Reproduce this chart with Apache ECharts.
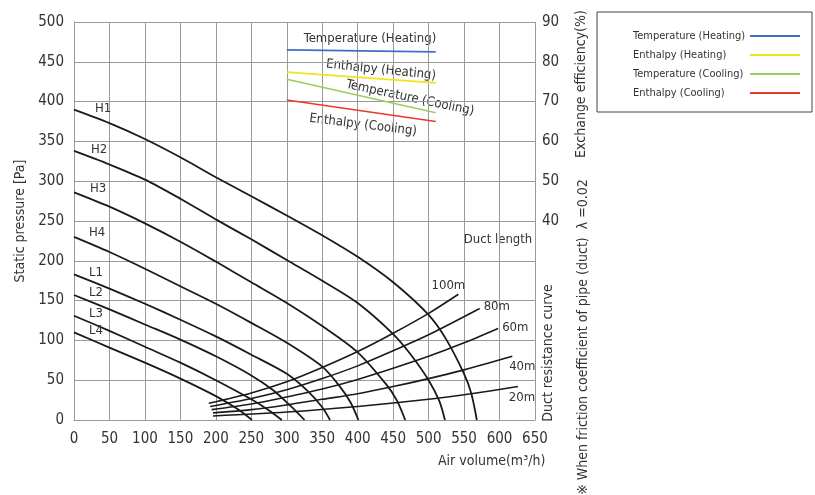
<!DOCTYPE html>
<html>
<head>
<meta charset="utf-8">
<script src="https://cdn.jsdelivr.net/npm/echarts@6/dist/echarts.min.js"></script>
<style>
html,body{margin:0;padding:0;background:#fff;}
#c{width:815px;height:495px;}
</style>
</head>
<body>
<div id="c"></div>
<script>
// ---------- data ----------
const xTicks = [0,50,100,150,200,250,300,350,400,450,500,550,600,650];
const fanNames = ['H1','H2','H3','H4','L1','L2','L3','L4'];
const H1 = [[0,390],[50,373],[100,353],[150,330],[200,305],[250,281],[300,257],[350,232],[400,205],[450,173],[500,132],[525,101],[550,58],[560,34],[568,0]];
const H2 = [[0,338],[50,321],[100,302],[150,278],[200,252],[250,227],[300,201],[350,175],[400,147],[450,108],[475,82],[500,50],[515,24],[523,0]];
const H3 = [[0,286],[50,268],[100,247],[150,224],[200,199],[250,173],[300,147],[350,118],[400,85],[440,45],[455,25],[467,0]];
const H4 = [[0,230],[50,211],[100,190],[150,168],[200,146],[250,122],[300,97],[350,67],[375,42],[390,22],[401,0]];
const L1 = [[0,183],[50,165],[100,146],[150,126],[200,105],[250,82],[300,58],[330,36],[350,16],[361,0]];
const L2 = [[0,157],[50,139],[100,120],[150,101],[200,80],[250,56],[280,38],[305,18],[325,0]];
const L3 = [[0,131],[50,112],[100,92],[150,72],[200,50],[250,26],[275,12],[293,0]];
const L4 = [[0,110],[50,91],[100,72],[150,52],[200,30],[230,14],[251,0]];
const fanData = [H1,H2,H3,H4,L1,L2,L3,L4];

const ductNames = ['100m','80m','60m','40m','20m'];
const duct100 = [[190,21],[250,34],[300,48],[350,66],[400,86],[450,109],[500,134],[542,158]];
const duct80  = [[192,17],[250,27],[300,38],[350,52],[400,68],[450,87],[500,107],[572,140]];
const duct60  = [[194,13],[250,20],[300,29],[350,39],[400,51],[450,65],[500,80],[550,97],[598,115]];
const duct40  = [[196,9],[250,13],[300,19],[350,26],[400,33],[450,42],[500,52],[550,63],[618,80]];
const duct20  = [[196,5],[300,10],[400,17],[500,26],[560,33],[626,42]];
const ductData = [duct100,duct80,duct60,duct40,duct20];

const effNames = ['Temperature (Heating)','Enthalpy (Heating)','Temperature (Cooling)','Enthalpy (Cooling)'];
const effTempHeat = [[300,83.0],[510,82.5]];
const effEnthHeat = [[300,77.4],[510,74.7]];
const effTempCool = [[300,75.6],[510,67.2]];
const effEnthCool = [[300,70.4],[510,65.0]];
const effData = [effTempHeat,effEnthHeat,effTempCool,effEnthCool];
const effColors = ['#3f6fc6','#f2e21a','#9ccc5c','#e8392e'];

// ---------- chart ----------
const FONT = '"Liberation Sans Narrow","DejaVu Sans Condensed","Roboto",sans-serif';
const chart = echarts.init(document.getElementById('c'), null, {renderer:'canvas'});

const fanLabelOffsets = [[16,-1],[12,-1],[11,-4],[10,-4],[10,-2],[10,-2],[10,-2],[10,-2]];
const ductLabelCfg = [
  {position:'top', offset:[-10,3]},
  {position:'right', offset:[-1,-2]},
  {position:'right', offset:[-1,-1]},
  {position:'bottom', offset:[10,-1]},
  {position:'bottom', offset:[4,0]}
];
const labelBase = {show:true, fontFamily:FONT, fontSize:13, color:'#333'};

const series = [];
fanData.forEach((d,i)=>{
  series.push({
    type:'line', name:fanNames[i],
    data:d.map((p,j)=> j===0 ? {value:p, label:Object.assign({}, labelBase, {formatter:fanNames[i], position:'right', offset:fanLabelOffsets[i]})} : p),
    smooth:0.3, showSymbol:true, symbol:'circle', symbolSize:0.01, silent:true,
    label:{show:false},
    lineStyle:{color:'#1a1a1a', width:1.8}, itemStyle:{color:'#1a1a1a'}, z:5
  });
});
ductData.forEach((d,i)=>{
  series.push({
    type:'line', name:ductNames[i],
    data:d.map((p,j)=> j===d.length-1 ? {value:p, label:Object.assign({}, labelBase, {formatter:ductNames[i]}, ductLabelCfg[i])} : p),
    smooth:0.3, showSymbol:true, symbol:'circle', symbolSize:0.01, silent:true,
    label:{show:false},
    lineStyle:{color:'#1a1a1a', width:1.6}, itemStyle:{color:'#1a1a1a'}, z:5
  });
});
effData.forEach((d,i)=>{
  series.push({
    type:'line', name:effNames[i], yAxisIndex:1, data:d,
    showSymbol:false, symbol:'none', silent:true,
    lineStyle:{color:effColors[i], width:1.6}, itemStyle:{color:effColors[i]}, z:6
  });
});

const grayText = '#333';
const option = {
  animation:false,
  backgroundColor:'#fff',
  grid:{left:74, right:280, top:22, bottom:75, containLabel:false},
  legend:{
    data:effNames.map(n=>({name:n, icon:'rect'})), orient:'vertical', left:597, top:12, align:'right',
    padding:[17,12,12,36], itemGap:5, itemWidth:50, itemHeight:2,
    borderColor:'#444', borderWidth:1,
    formatter:n=>'{a|'+n+'}',
    textStyle:{fontFamily:FONT, fontSize:11, color:'#333', lineHeight:14,
      rich:{a:{width:112, align:'left', fontFamily:FONT, fontSize:11, color:'#333', lineHeight:14}}},
    selectedMode:false
  },
  xAxis:{
    type:'value', min:0, max:650, interval:50,
    axisLine:{show:true, lineStyle:{color:'#999', width:1}},
    axisTick:{show:false},
    axisLabel:{fontFamily:FONT, fontSize:15, color:grayText, margin:12, formatter:v=> xTicks.indexOf(v)>=0 ? String(v) : ''},
    splitLine:{show:true, lineStyle:{color:'#9a9a9a', width:1}}
  },
  yAxis:[{
    type:'value', min:0, max:500, interval:50,
    name:'Static pressure [Pa]', nameLocation:'middle', nameGap:47, nameRotate:90,
    nameTextStyle:{fontFamily:FONT, fontSize:14, color:grayText},
    axisLine:{show:true, lineStyle:{color:'#999', width:1}},
    axisTick:{show:false},
    axisLabel:{fontFamily:FONT, fontSize:15, color:grayText, margin:10},
    splitLine:{show:true, lineStyle:{color:'#9a9a9a', width:1}}
  },{
    type:'value', min:-10, max:90, interval:10, position:'right',
    axisLine:{show:false}, axisTick:{show:false}, splitLine:{show:false},
    axisLabel:{fontFamily:FONT, fontSize:15, color:grayText, margin:7, formatter:v=> v>=40 ? String(v) : ''}
  }],
  graphic:[
    {type:'text', left:438, top:454, style:{text:'Air volume(m³/h)', font:'14px '+FONT, fill:grayText}},
    {type:'text', x:498, y:240, style:{text:'Duct length', font:'13px '+FONT, fill:grayText, align:'center', verticalAlign:'middle'}},
    {type:'text', x:548, y:353, rotation:Math.PI/2, style:{text:'Duct resistance curve', font:'14px '+FONT, fill:grayText, align:'center', verticalAlign:'middle'}},
    {type:'text', x:581, y:84, rotation:Math.PI/2, style:{text:'Exchange efficiency(%)', font:'14px '+FONT, fill:grayText, align:'center', verticalAlign:'middle'}},
    {type:'text', x:583, y:337, rotation:Math.PI/2, style:{text:'※ When friction coefficient of pipe (duct)  λ =0.02', font:'14px '+FONT, fill:grayText, align:'center', verticalAlign:'middle'}},
    {type:'text', x:370, y:39, style:{text:'Temperature (Heating)', font:'13px '+FONT, fill:grayText, align:'center', verticalAlign:'middle'}},
    {type:'text', x:381, y:70, rotation:-6*Math.PI/180, style:{text:'Enthalpy (Heating)', font:'13px '+FONT, fill:grayText, align:'center', verticalAlign:'middle'}},
    {type:'text', x:410, y:98, rotation:-12*Math.PI/180, style:{text:'Temperature (Cooling)', font:'13px '+FONT, fill:grayText, align:'center', verticalAlign:'middle'}},
    {type:'text', x:363, y:125, rotation:-7*Math.PI/180, style:{text:'Enthalpy (Cooling)', font:'13px '+FONT, fill:grayText, align:'center', verticalAlign:'middle'}}
  ],
  series:series
};
chart.setOption(option);
</script>
</body>
</html>
